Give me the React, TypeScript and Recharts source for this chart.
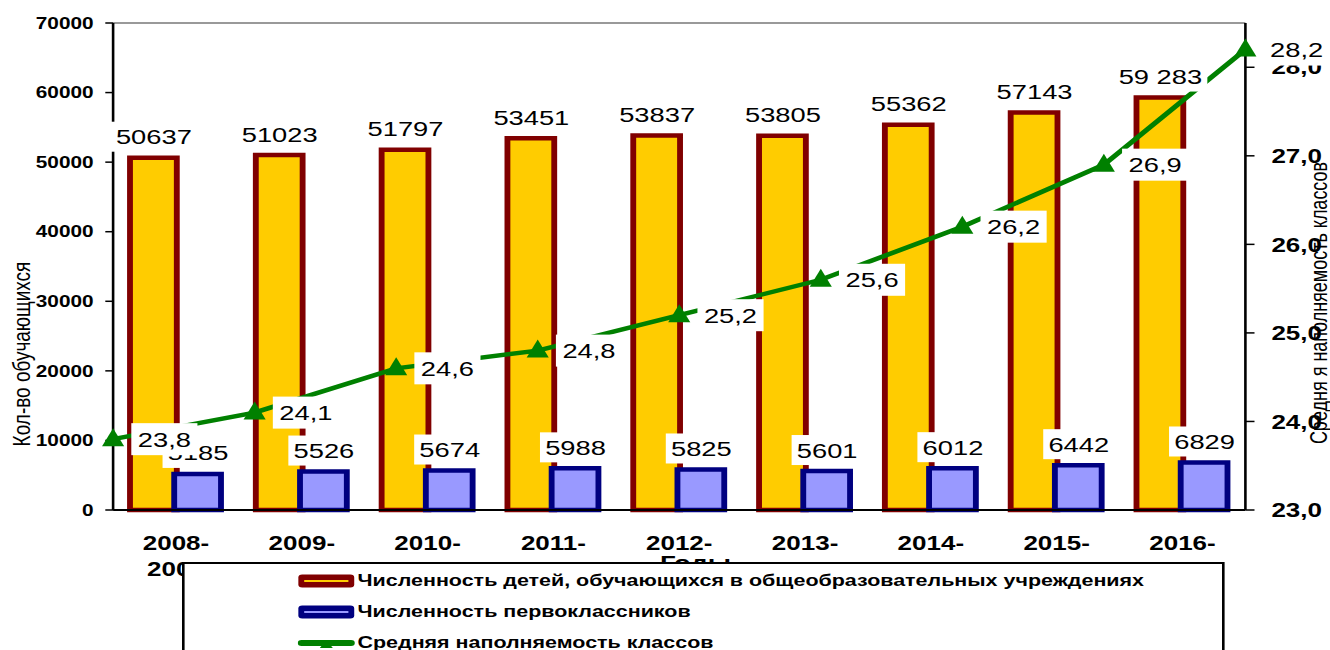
import { Bar, ComposedChart, LabelList, Legend, Line, ReferenceLine, XAxis, YAxis } from "recharts"

const years = [
  "2008-2009",
  "2009-2010",
  "2010-2011",
  "2011-2012",
  "2012-2013",
  "2013-2014",
  "2014-2015",
  "2015-2016",
  "2016-2017",
]
const students = [50637, 51023, 51797, 53451, 53837, 53805, 55362, 57143, 59283]
const studentLabels = ["50637", "51023", "51797", "53451", "53837", "53805", "55362", "57143", "59 283"]
const firstGraders = [5185, 5526, 5674, 5988, 5825, 5601, 6012, 6442, 6829]
const avgClass = [23.8, 24.1, 24.6, 24.8, 25.2, 25.6, 26.2, 26.9, 28.2]
const leftTicks = [0, 10000, 20000, 30000, 40000, 50000, 60000, 70000]
const rightTicks = [23, 24, 25, 26, 27, 28]

const seriesNames = [
  "Численность детей, обучающихся в общеобразовательных учреждениях",
  "Численность первоклассников",
  "Средняя наполняемость классов",
]

// the source image is stretched sideways, so draw narrow and scale x
const STRETCH = 1.3
const W = Math.round(1330 / STRETCH)
const H = 650
const BAR_SIZE = 36
const BAR_GAP = -2
const BAR_SHIFT = (BAR_SIZE + BAR_GAP) / 2
const FONT = '"Liberation Sans", Arial, sans-serif'

const data = years.map((year, i) => ({
  year,
  idx: i,
  students: students[i],
  studentLabel: studentLabels[i],
  first: firstGraders[i],
  avg: avgClass[i],
  avgLabel: avgClass[i].toFixed(1).replace(".", ","),
}))

const boundaryTicks = years.map((_, i) => i).concat(years.length)

const textWidth = (s: string, size: number) =>
  s.split("").reduce((w, c) => w + (c === "," || c === " " ? 0.278 : 0.556), 0) * size

const barLabel = (shift: number) => (props: any) => {
  const text = String(props.value)
  const cx = Number(props.x) + shift
  const cy = Number(props.y) - 21
  const w = textWidth(text, 21) + 8
  return (
    <g>
      <rect x={cx - w / 2} y={cy - 15} width={w} height={30} fill="#fff" />
      <text x={cx} y={cy} dy="0.36em" textAnchor="middle" fontSize={21} fontFamily={FONT} fill="#000">
        {text}
      </text>
    </g>
  )
}

const lineLabel = (props: any) => {
  const text = String(props.value)
  const x = Number(props.x)
  const y = Number(props.y)
  const w = textWidth(text, 21) + 10
  return (
    <g>
      <rect x={x + 14} y={y - 16} width={w} height={32} fill="#fff" />
      <text x={x + 19} y={y} dy="0.36em" fontSize={21} fontFamily={FONT} fill="#000">
        {text}
      </text>
    </g>
  )
}

const triangle = (props: any) => {
  const { cx, cy, index } = props
  return (
    <polygon
      key={`tri-${index}`}
      points={`${cx},${cy - 11} ${cx - 8.5},${cy + 7} ${cx + 8.5},${cy + 7}`}
      fill="#008000"
    />
  )
}

const leftTick = (props: any) => (
  <text x={props.x} y={props.y} dy="0.36em" textAnchor="end" fontSize={16} fontWeight="bold" fontFamily={FONT} fill="#000">
    {props.payload.value}
  </text>
)

const rightTick = (props: any) => (
  <text x={props.x} y={props.y} dy="0.36em" textAnchor="start" fontSize={20} fontWeight="bold" fontFamily={FONT} fill="#000">
    {Number(props.payload.value).toFixed(1).replace(".", ",")}
  </text>
)

const yearTick = (props: any) => {
  const [a, b] = String(props.payload.value).split("-")
  return (
    <text textAnchor="middle" fontSize={20} fontWeight="bold" fontFamily={FONT} fill="#000">
      <tspan x={props.x} y={props.y + 20}>{a}-</tspan>
      <tspan x={props.x} y={props.y + 46}>{b}</tspan>
    </text>
  )
}

const LeftTitle = () => (
  <text transform="translate(16, 354) rotate(-90)" dy="0.36em" textAnchor="middle" fontSize={19} fontFamily={FONT} fill="#000">
    Кол-во обучающихся
  </text>
)

const RightTitle = () => (
  <text transform="translate(1014, 303) rotate(-90)" dy="0.36em" textAnchor="middle" fontSize={18} fontFamily={FONT} fill="#000">
    Средня я наполняемость классов
  </text>
)

const XTitle = () => (
  <text x={535} y={570} textAnchor="middle" fontSize={21} fontWeight="bold" fontFamily={FONT} fill="#000">
    Годы
  </text>
)

const LegendBox = () => {
  const icons = [
    <svg width={44} height={14} key="a">
      <rect x={0.5} y={0.5} width={43} height={13} rx={3} fill="#800000" />
      <line x1={5} y1={7} x2={39} y2={7} stroke="#FFCC00" strokeWidth={2} />
    </svg>,
    <svg width={44} height={14} key="b">
      <rect x={0.5} y={0.5} width={43} height={13} rx={3} fill="#000080" />
      <line x1={5} y1={7} x2={39} y2={7} stroke="#9999FF" strokeWidth={2} />
    </svg>,
    <svg width={44} height={14} key="c">
      <line x1={3} y1={7} x2={41} y2={7} stroke="#008000" strokeWidth={6} strokeLinecap="round" />
      <polygon points="22,4 17,12 27,12" fill="#008000" />
    </svg>,
  ]
  return (
    <div
      style={{
        width: 802,
        height: 100,
        boxSizing: "border-box",
        border: "2px solid #000",
        background: "#fff",
        paddingTop: 1,
        paddingLeft: 87,
        fontFamily: FONT,
        fontSize: 16.5,
        fontWeight: "bold",
        color: "#000",
      }}
    >
      {seriesNames.map((name, i) => (
        <div key={name} style={{ display: "flex", alignItems: "center", height: 31, whiteSpace: "nowrap" }}>
          {icons[i]}
          <span style={{ marginLeft: 2 }}>{name}</span>
        </div>
      ))}
    </div>
  )
}

export default function App() {
  return (
    <div style={{ position: "absolute", left: 0, top: 0, width: 1330, height: 650, overflow: "hidden", background: "#fff" }}>
      <div style={{ transform: `scaleX(${STRETCH})`, transformOrigin: "0 0", width: W, height: H }}>
        <ComposedChart width={W} height={H} data={data} margin={{ top: 23, right: 0, bottom: 68, left: 0 }} barGap={BAR_GAP}>
          <XAxis
            xAxisId="bounds"
            type="number"
            dataKey="idx"
            domain={[0, years.length]}
            ticks={boundaryTicks}
            allowDataOverflow
            tick={false}
            tickSize={10}
            height={12}
            axisLine={{ stroke: "#000", strokeWidth: 2 }}
            tickLine={{ stroke: "#000", strokeWidth: 1.5 }}
          />
          <XAxis
            xAxisId="cat"
            dataKey="year"
            height={60}
            axisLine={false}
            tickLine={false}
            interval={0}
            tick={yearTick}
            label={<XTitle />}
          />
          <XAxis xAxisId="line" type="number" dataKey="idx" domain={[0, years.length - 1]} hide />
          <YAxis
            yAxisId="left"
            domain={[0, 70000]}
            ticks={leftTicks}
            width={87}
            tickSize={6}
            tickMargin={9}
            axisLine={{ stroke: "#000", strokeWidth: 2 }}
            tickLine={{ stroke: "#000", strokeWidth: 1.5 }}
            tick={leftTick}
            label={<LeftTitle />}
          />
          <YAxis
            yAxisId="right"
            orientation="right"
            domain={[23, 28.5]}
            ticks={rightTicks}
            allowDataOverflow
            width={65}
            tickSize={7}
            tickMargin={13}
            axisLine={{ stroke: "#000", strokeWidth: 2 }}
            tickLine={{ stroke: "#000", strokeWidth: 1.5 }}
            tick={rightTick}
            label={<RightTitle />}
          />
          <ReferenceLine yAxisId="left" xAxisId="cat" y={70000} stroke="#999" strokeWidth={2} />
          <Bar
            xAxisId="cat"
            yAxisId="left"
            dataKey="students"
            barSize={BAR_SIZE}
            fill="#FFCC00"
            stroke="#800000"
            strokeWidth={4.5}
            isAnimationActive={false}
          />
          <Bar
            xAxisId="cat"
            yAxisId="left"
            dataKey="first"
            barSize={BAR_SIZE}
            fill="#9999FF"
            stroke="#000080"
            strokeWidth={4.5}
            isAnimationActive={false}
          />
          <Line
            xAxisId="line"
            yAxisId="right"
            dataKey="avg"
            type="linear"
            stroke="#008000"
            strokeWidth={4.5}
            dot={triangle}
            activeDot={false}
            isAnimationActive={false}
          />
          {/* bar value labels drawn above the line, like in the source */}
          <Line xAxisId="cat" yAxisId="left" dataKey="students" stroke="none" dot={false} activeDot={false} isAnimationActive={false}>
            <LabelList dataKey="studentLabel" content={barLabel(-BAR_SHIFT)} />
          </Line>
          <Line xAxisId="cat" yAxisId="left" dataKey="first" stroke="none" dot={false} activeDot={false} isAnimationActive={false}>
            <LabelList dataKey="first" content={barLabel(BAR_SHIFT)} />
          </Line>
          <Line xAxisId="line" yAxisId="right" dataKey="avg" stroke="none" dot={false} activeDot={false} isAnimationActive={false}>
            <LabelList dataKey="avgLabel" content={lineLabel} />
          </Line>
          <Legend
            layout="vertical"
            align="center"
            verticalAlign="middle"
            wrapperStyle={{ left: 140, top: 562, width: 802, height: 100 }}
            content={() => <LegendBox />}
          />
        </ComposedChart>
      </div>
    </div>
  )
}
